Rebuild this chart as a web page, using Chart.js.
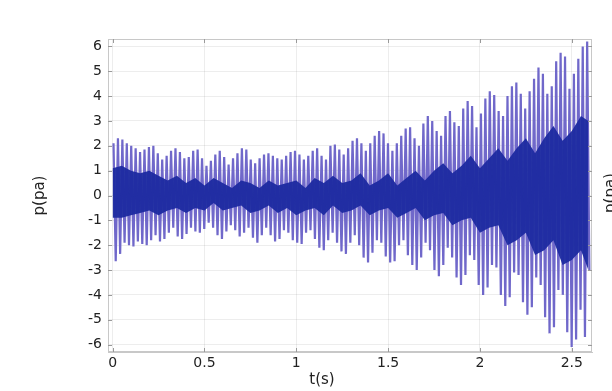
<!DOCTYPE html>
<html lang="en">
<head>
<meta charset="UTF-8" />
<title>p(pa) vs t(s)</title>
<script src="https://cdn.jsdelivr.net/npm/chart.js"></script>
<style>
  html, body { margin: 0; padding: 0; background: #fff; }
  #wrap { width: 612px; height: 391px; }
</style>
</head>
<body>
<div id="wrap"><canvas id="myChart" width="612" height="391"></canvas></div>
<script>
// tick labels
const xTicks = [0, 0.5, 1, 1.5, 2, 2.5];
const yTicks = [-6, -5, -4, -3, -2, -1, 0, 1, 2, 3, 4, 5, 6];
const xTitle = 't(s)';
const yTitle = 'p(pa)';

// one oscillation cycle every cycleStep seconds, first crest at firstPeakTime
const firstPeakTime = 0.005;
const cycleStep = 0.0241;

// crest of each cycle (pa)
const peakValues = [
  2.1, 2.3, 2.25, 2.1, 2.0, 1.9, 1.75, 1.85, 1.95, 2.0,
  1.7, 1.45, 1.6, 1.8, 1.9, 1.75, 1.5, 1.55, 1.8, 1.85,
  1.5, 1.2, 1.4, 1.65, 1.8, 1.55, 1.25, 1.5, 1.7, 1.9,
  1.85, 1.45, 1.3, 1.5, 1.65, 1.7, 1.6, 1.5, 1.45, 1.6,
  1.75, 1.8, 1.65, 1.45, 1.6, 1.8, 1.9, 1.6, 1.45, 2.0,
  2.05, 1.85, 1.65, 1.9, 2.2, 2.3, 2.1, 1.8, 2.1, 2.4,
  2.6, 2.5, 2.1, 1.8, 2.1, 2.4, 2.7, 2.75, 2.3, 2.0,
  2.9, 3.2, 3.0, 2.6, 2.4, 3.2, 3.4, 2.95, 2.8, 3.5,
  3.8, 3.6, 2.75, 3.3, 3.9, 4.2, 4.05, 3.4, 3.2, 4.0,
  4.4, 4.55, 4.1, 3.5, 4.2, 4.7, 5.15, 4.9, 4.1, 4.4,
  5.4, 5.75, 5.6, 4.3, 4.9, 5.5, 6.0, 6.2
];

// trough of each cycle (pa)
const troughValues = [
  -2.65, -2.35, -1.9, -2.0, -2.05, -1.85, -1.95, -2.0, -1.8, -1.6,
  -1.85, -1.75, -1.5, -1.3, -1.65, -1.75, -1.55, -1.3, -1.45, -1.5,
  -1.35, -1.1, -1.3, -1.6, -1.75, -1.45, -1.2, -1.4, -1.65, -1.5,
  -1.3, -1.7, -1.9, -1.6, -1.3, -1.6, -1.85, -1.75, -1.4, -1.5,
  -1.8, -1.9, -1.95, -1.5, -1.4, -1.75, -2.1, -2.2, -1.8, -1.5,
  -1.9, -2.25, -2.35, -1.9, -1.6, -2.0, -2.5, -2.7, -2.3, -1.8,
  -1.9, -2.45, -2.7, -2.65, -2.0, -1.8, -2.4, -2.8, -3.0, -2.5,
  -1.9, -2.2, -3.0, -3.25, -2.8, -2.1, -2.5, -3.3, -3.6, -3.2,
  -2.4, -2.6, -3.6, -4.0, -3.7, -2.8, -2.9, -4.0, -4.45, -4.1,
  -3.1, -3.2, -4.3, -4.8, -4.5, -3.3, -3.6, -4.9, -5.55, -5.3,
  -3.8, -4.0, -5.5, -6.1, -5.8, -4.6, -5.7, -3.0
];

// dense dark core of the signal
const bandTimes = [
  0, 0.05, 0.1, 0.15, 0.2, 0.25, 0.3, 0.35, 0.4, 0.45,
  0.5, 0.55, 0.6, 0.65, 0.7, 0.75, 0.8, 0.85, 0.9, 0.95,
  1.0, 1.05, 1.1, 1.15, 1.2, 1.25, 1.3, 1.35, 1.4, 1.45,
  1.5, 1.55, 1.6, 1.65, 1.7, 1.75, 1.8, 1.85, 1.9, 1.95,
  2.0, 2.05, 2.1, 2.15, 2.2, 2.25, 2.3, 2.35, 2.4, 2.45,
  2.5, 2.55, 2.59
];
const bandTop = [
  1.1, 1.2, 1.0, 0.9, 1.0, 0.8, 0.6, 0.8, 0.5, 0.7,
  0.4, 0.7, 0.5, 0.3, 0.6, 0.5, 0.3, 0.6, 0.4, 0.5,
  0.6, 0.3, 0.7, 0.5, 0.8, 0.5, 0.6, 0.9, 0.4, 0.6,
  0.9, 0.4, 0.7, 1.0, 0.6, 1.0, 1.3, 0.9, 1.2, 1.6,
  1.1, 1.5, 1.9, 1.4, 1.9, 2.3, 1.7, 2.3, 2.8, 2.2,
  2.6, 3.2, 3.0
];
const bandBottom = [
  -0.9, -0.9, -0.8, -0.7, -0.6, -0.8, -0.6, -0.5, -0.7, -0.5,
  -0.6, -0.3, -0.6, -0.5, -0.4, -0.7, -0.6, -0.4, -0.7, -0.5,
  -0.8, -0.6, -0.5, -0.8, -0.4, -0.7, -0.6, -0.4, -0.8, -0.6,
  -0.5, -0.9, -0.7, -0.5, -1.0, -0.8, -0.7, -1.2, -1.0, -0.9,
  -1.5, -1.3, -1.2, -2.0, -1.8, -1.5, -2.4, -2.2, -1.8, -2.8,
  -2.6, -2.2, -3.0
];

let spikes = [];
for (let i = 0; i < peakValues.length; i++) {
  spikes.push({ x: firstPeakTime + i * cycleStep, y: peakValues[i] });
  spikes.push({ x: firstPeakTime + (i + 0.5) * cycleStep, y: troughValues[i] });
}
const bandUpper = bandTimes.map((t, i) => ({ x: t, y: bandTop[i] }));
const bandLower = bandTimes.map((t, i) => ({ x: t, y: bandBottom[i] }));

const labelFont = { family: 'DejaVu Sans', size: 14 };

// box, inward ticks and the loose texts around the axes
const frame = {
  id: 'frame',
  afterDraw(chart) {
    const ctx = chart.ctx;
    const a = chart.chartArea;
    const xs = chart.scales.x, ys = chart.scales.y;
    ctx.save();
    ctx.strokeStyle = '#c8c8c8';
    ctx.lineWidth = 1;
    ctx.strokeRect(a.left + 0.5, a.top + 0.5, a.right - a.left - 1, a.bottom - a.top - 1);
    ctx.strokeStyle = '#9a9a9a';
    ctx.beginPath();
    xTicks.forEach(v => {
      const px = Math.round(xs.getPixelForValue(v)) + 0.5;
      ctx.moveTo(px, a.bottom); ctx.lineTo(px, a.bottom - 4);
      ctx.moveTo(px, a.top); ctx.lineTo(px, a.top + 4);
    });
    yTicks.forEach(v => {
      const py = Math.round(ys.getPixelForValue(v)) + 0.5;
      ctx.moveTo(a.left, py); ctx.lineTo(a.left + 4, py);
      ctx.moveTo(a.right, py); ctx.lineTo(a.right - 4, py);
    });
    ctx.stroke();

    ctx.fillStyle = '#222';
    ctx.font = '15px "DejaVu Sans"';
    ctx.textAlign = 'center';
    ctx.textBaseline = 'middle';
    ctx.fillText(xTitle, 322, 380);
    // neighbouring panel's label, clipped at the edge
    ctx.translate(611, 193);
    ctx.rotate(-Math.PI / 2);
    ctx.fillText(yTitle, 0, 0);
    ctx.restore();
  }
};

new Chart(document.getElementById('myChart'), {
  type: 'line',
  data: {
    datasets: [
      {
        data: bandUpper,
        borderWidth: 0,
        pointRadius: 0,
        backgroundColor: 'rgba(28, 42, 160, 0.95)',
        fill: '+1',
        order: 0
      },
      {
        data: bandLower,
        borderWidth: 0,
        pointRadius: 0,
        fill: false,
        order: 0
      },
      {
        data: spikes,
        borderColor: 'rgb(112, 104, 202)',
        borderWidth: 2.2,
        pointRadius: 0,
        fill: false,
        order: 1
      }
    ]
  },
  options: {
    responsive: false,
    animation: false,
    events: [],
    layout: { padding: { top: 39, right: 20, left: 0, bottom: 0 } },
    plugins: { legend: { display: false }, tooltip: { enabled: false } },
    scales: {
      x: {
        type: 'linear',
        min: -0.025,
        max: 2.61,
        afterBuildTicks: s => { s.ticks = xTicks.map(v => ({ value: v })); },
        afterFit: s => { s.height = 39; },
        grid: { color: 'rgba(0,0,0,0.07)', drawTicks: false },
        border: { color: '#c8c8c8' },
        ticks: { font: labelFont, color: '#222', padding: 3, maxRotation: 0, callback: v => String(v) }
      },
      y: {
        min: -6.3,
        max: 6.3,
        afterBuildTicks: s => { s.ticks = yTicks.map(v => ({ value: v })); },
        afterFit: s => { s.width = 108; },
        grid: { color: 'rgba(0,0,0,0.07)', drawTicks: false },
        border: { color: '#c8c8c8' },
        ticks: { font: labelFont, color: '#222', padding: 6, callback: v => String(v) },
        title: { display: true, text: yTitle, font: { family: 'DejaVu Sans', size: 15 }, color: '#222', padding: { top: 31, bottom: 0 } }
      }
    }
  },
  plugins: [frame]
});
</script>
</body>
</html>
